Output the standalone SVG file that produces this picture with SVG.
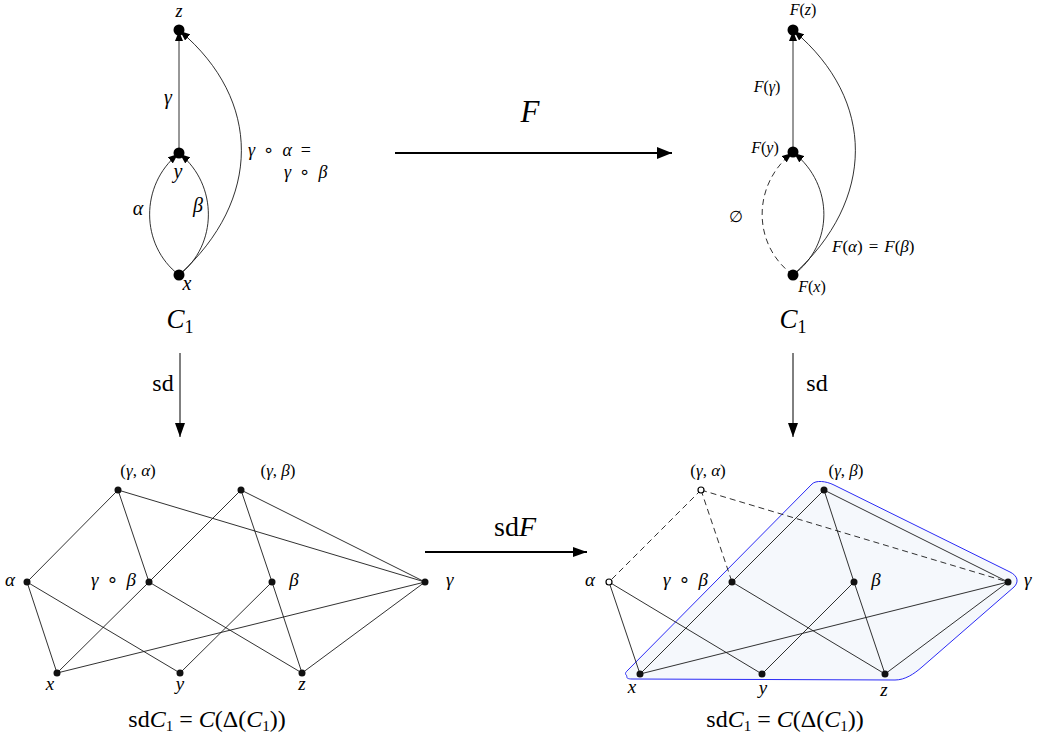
<svg xmlns="http://www.w3.org/2000/svg" width="1039" height="736" viewBox="0 0 1039 736" font-family="'Liberation Serif', 'DejaVu Serif', serif">
<style>
.e{stroke:#1a1a1a;stroke-width:0.9;fill:none}
.d{stroke-dasharray:6 4}
.t{fill:#000}
.i{font-style:italic}
.o{font-family:'DejaVu Sans',sans-serif;font-style:normal}
.dot{fill:#000}
.sm{fill:#111}
.open{fill:#fff;stroke:#000;stroke-width:1.2}
</style>
<defs>
<marker id="ah" viewBox="0 0 10 8" refX="10" refY="4" markerWidth="10" markerHeight="8" markerUnits="userSpaceOnUse" orient="auto"><path d="M0,0 L10,4 L0,8 Z" fill="#000"/></marker>
<marker id="ahF" viewBox="0 0 15 12" refX="15" refY="6" markerWidth="15" markerHeight="12" markerUnits="userSpaceOnUse" orient="auto"><path d="M0,0 L15,6 L0,12 Z" fill="#000"/></marker>
<marker id="ahS" viewBox="0 0 14 10" refX="14" refY="5" markerWidth="14" markerHeight="10" markerUnits="userSpaceOnUse" orient="auto"><path d="M0,0 L14,5 L0,10 Z" fill="#000"/></marker>
</defs>
<rect width="1039" height="736" fill="#fff"/>

<path id="region" d="M627,676 C625,674 625,673 627,671 L812,484 C816,480 826,481 834,485 L1010,572 C1018,576 1019,582 1014,587 L922,667 C914,674 905,680 895,680 L632,679 C628,679 626,678 627,676 Z" fill="#f5f8fc" stroke="#2a2af5" stroke-width="1"/>

<g id="connectors">
 <path class="e" d="M179,153 L179,31" marker-end="url(#ah)"/>
 <path class="e" d="M179,275 C140,245 140,185 178,154" marker-end="url(#ah)"/>
 <path class="e" d="M179,275 C218,245 218,185 180,154" marker-end="url(#ah)"/>
 <path class="e" d="M179,275 C262,200 262,100 180,31" marker-end="url(#ah)"/>
 <path class="e" d="M793,152 L793,31" marker-end="url(#ah)"/>
 <path class="e d" d="M793,275 C752,245 752,185 792,153" marker-end="url(#ah)"/>
 <path class="e" d="M793,275 C834,245 834,185 794,153" marker-end="url(#ah)"/>
 <path class="e" d="M793,275 C876,200 876,100 794,31" marker-end="url(#ah)"/>
 <path d="M395,153 L672,153" stroke="#000" stroke-width="2" fill="none" marker-end="url(#ahF)"/>
 <path d="M180,353 L180,437" stroke="#000" stroke-width="1" fill="none" marker-end="url(#ahS)"/>
 <path d="M793,353 L793,437" stroke="#000" stroke-width="1" fill="none" marker-end="url(#ahS)"/>
 <path d="M425,552 L587,552" stroke="#000" stroke-width="2" fill="none" marker-end="url(#ahS)"/>
 <path class="e" d="M118,490 L27,582 M118,490 L149,582 M118,490 L425,582 M241,490 L149,582 L57,673 M241,490 L272,582 M241,490 L425,582 M27,582 L57,673 M27,582 L180,673 M149,582 L302,673 M272,582 L180,673 M272,582 L302,673 M425,582 L57,673 M425,582 L302,673"/>
 <path class="e d" d="M701,490 L609,582 M701,490 L732,582 M701,490 L1008,582"/>
 <path class="e" d="M824,490 L732,582 L640,674 M824,490 L854,582 M824,490 L1008,582 M609,582 L640,674 M609,582 L762,674 M732,582 L885,674 M854,582 L762,674 M854,582 L885,674 M1008,582 L640,674 M1008,582 L885,674"/>
</g>

<g id="arrow-labels">
 <text class="t i" x="530" y="122" font-size="31" text-anchor="middle">F</text>
 <text class="t" x="163" y="391" font-size="24" text-anchor="middle">sd</text>
 <text class="t" x="817" y="391" font-size="24" text-anchor="middle">sd</text>
 <text class="t" x="515" y="536" font-size="28" text-anchor="middle">sd<tspan class="i">F</tspan></text>
</g>

<g id="tl-z"><circle class="dot" cx="179" cy="30" r="5.5"/><text class="t i" x="179" y="17" font-size="18" text-anchor="middle">z</text></g>
<g id="tl-y"><circle class="dot" cx="179" cy="153" r="5.5"/><text class="t i" x="178" y="178" font-size="20" text-anchor="middle">y</text></g>
<g id="tl-x"><circle class="dot" cx="179" cy="275" r="5.5"/><text class="t i" x="187" y="290" font-size="20" text-anchor="middle">x</text></g>
<g id="tl-labels">
 <text class="t i" x="168" y="104" font-size="20" text-anchor="middle">γ</text>
 <text class="t i" x="138" y="215" font-size="20" text-anchor="middle">α</text>
 <text class="t i" x="198" y="212" font-size="20" text-anchor="middle">β</text>
 <text class="t" x="248" y="156" font-size="18"><tspan class="i">γ</tspan><tspan class="o" dx="8">∘</tspan><tspan class="i" dx="8">α</tspan><tspan dx="9">=</tspan></text>
 <text class="t" x="284" y="178" font-size="18"><tspan class="i">γ</tspan><tspan class="o" dx="8">∘</tspan><tspan class="i" dx="8">β</tspan></text>
 <text class="t" x="180" y="328" font-size="27" text-anchor="middle"><tspan class="i">C</tspan><tspan font-size="18" dy="5">1</tspan></text>
</g>

<g id="tr-z"><circle class="dot" cx="793" cy="30" r="5.5"/><text class="t" x="803" y="15" font-size="16" text-anchor="middle"><tspan class="i">F</tspan>(<tspan class="i">z</tspan>)</text></g>
<g id="tr-y"><circle class="dot" cx="793" cy="152" r="5.5"/><text class="t" x="765" y="153" font-size="16" text-anchor="middle"><tspan class="i">F</tspan>(<tspan class="i">y</tspan>)</text></g>
<g id="tr-x"><circle class="dot" cx="793" cy="275" r="5.5"/><text class="t" x="812" y="292" font-size="16" text-anchor="middle"><tspan class="i">F</tspan>(<tspan class="i">x</tspan>)</text></g>
<g id="tr-labels">
 <text class="t" x="767" y="92" font-size="16" text-anchor="middle"><tspan class="i">F</tspan>(<tspan class="i">γ</tspan>)</text>
 <text class="t" x="736" y="222" font-size="16" text-anchor="middle">∅</text>
 <text class="t" x="832" y="252" font-size="17"><tspan class="i">F</tspan>(<tspan class="i">α</tspan>)<tspan dx="6">=</tspan><tspan class="i" dx="6">F</tspan>(<tspan class="i">β</tspan>)</text>
 <text class="t" x="793" y="328" font-size="27" text-anchor="middle"><tspan class="i">C</tspan><tspan font-size="18" dy="5">1</tspan></text>
</g>

<g id="bl-ga"><circle class="sm" cx="118" cy="490" r="3.5"/><text class="t" x="138" y="476" font-size="17" text-anchor="middle">(<tspan class="i">γ</tspan>, <tspan class="i">α</tspan>)</text></g>
<g id="bl-gb"><circle class="sm" cx="241" cy="490" r="3.5"/><text class="t" x="278" y="476" font-size="17" text-anchor="middle">(<tspan class="i">γ</tspan>, <tspan class="i">β</tspan>)</text></g>
<g id="bl-a"><circle class="sm" cx="27" cy="582" r="3.5"/><text class="t i" x="10" y="586" font-size="19" text-anchor="middle">α</text></g>
<g id="bl-gob"><circle class="sm" cx="149" cy="582" r="3.5"/><text class="t" x="91" y="586" font-size="19"><tspan class="i">γ</tspan><tspan class="o" dx="8">∘</tspan><tspan class="i" dx="8">β</tspan></text></g>
<g id="bl-b"><circle class="sm" cx="272" cy="582" r="3.5"/><text class="t i" x="294" y="586" font-size="19" text-anchor="middle">β</text></g>
<g id="bl-g"><circle class="sm" cx="425" cy="582" r="3.5"/><text class="t i" x="446" y="586" font-size="19">γ</text></g>
<g id="bl-x"><circle class="sm" cx="57" cy="673" r="3.5"/><text class="t i" x="50" y="690" font-size="19" text-anchor="middle">x</text></g>
<g id="bl-y"><circle class="sm" cx="180" cy="673" r="3.5"/><text class="t i" x="180" y="690" font-size="19" text-anchor="middle">y</text></g>
<g id="bl-z"><circle class="sm" cx="302" cy="673" r="3.5"/><text class="t i" x="302" y="690" font-size="19" text-anchor="middle">z</text></g>
<text class="t" x="207" y="727" font-size="24" text-anchor="middle">sd<tspan class="i">C</tspan><tspan font-size="15" dy="4">1</tspan><tspan dy="-4" dx="6">=</tspan><tspan class="i" dx="6">C</tspan>(Δ(<tspan class="i">C</tspan><tspan font-size="15" dy="4">1</tspan><tspan dy="-4">))</tspan></text>

<g id="br-ga"><circle class="open" cx="701" cy="490" r="3"/><text class="t" x="708" y="476" font-size="17" text-anchor="middle">(<tspan class="i">γ</tspan>, <tspan class="i">α</tspan>)</text></g>
<g id="br-gb"><circle class="sm" cx="824" cy="490" r="3.5"/><text class="t" x="846" y="476" font-size="17" text-anchor="middle">(<tspan class="i">γ</tspan>, <tspan class="i">β</tspan>)</text></g>
<g id="br-a"><circle class="open" cx="609" cy="582" r="3"/><text class="t i" x="590" y="586" font-size="19" text-anchor="middle">α</text></g>
<g id="br-gob"><circle class="sm" cx="732" cy="582" r="3.5"/><text class="t" x="663" y="586" font-size="19"><tspan class="i">γ</tspan><tspan class="o" dx="8">∘</tspan><tspan class="i" dx="8">β</tspan></text></g>
<g id="br-b"><circle class="sm" cx="854" cy="582" r="3.5"/><text class="t i" x="876" y="586" font-size="19" text-anchor="middle">β</text></g>
<g id="br-g"><circle class="sm" cx="1008" cy="582" r="3.5"/><text class="t i" x="1024" y="586" font-size="19">γ</text></g>
<g id="br-x"><circle class="sm" cx="640" cy="674" r="3.5"/><text class="t i" x="632" y="693" font-size="19" text-anchor="middle">x</text></g>
<g id="br-y"><circle class="sm" cx="762" cy="674" r="3.5"/><text class="t i" x="763" y="694" font-size="19" text-anchor="middle">y</text></g>
<g id="br-z"><circle class="sm" cx="885" cy="674" r="3.5"/><text class="t i" x="884" y="696" font-size="19" text-anchor="middle">z</text></g>
<text class="t" x="785" y="727" font-size="24" text-anchor="middle">sd<tspan class="i">C</tspan><tspan font-size="15" dy="4">1</tspan><tspan dy="-4" dx="6">=</tspan><tspan class="i" dx="6">C</tspan>(Δ(<tspan class="i">C</tspan><tspan font-size="15" dy="4">1</tspan><tspan dy="-4">))</tspan></text>
</svg>
